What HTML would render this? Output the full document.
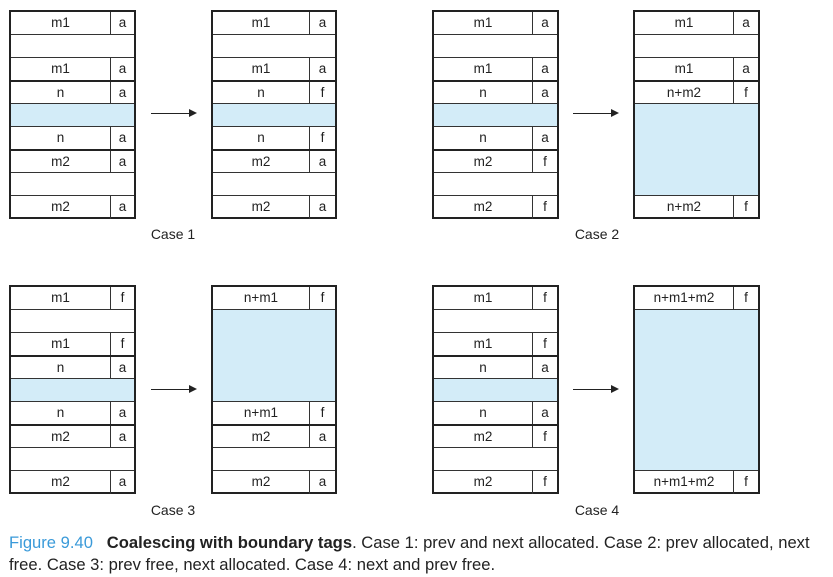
<!DOCTYPE html>
<html><head><meta charset="utf-8">
<style>
body{margin:0;width:833px;height:577px;background:#fff;position:relative;overflow:hidden;font-family:"Liberation Sans",sans-serif;}
.blk{position:absolute;border:2px solid #222;box-sizing:border-box;}
.row{position:absolute;left:0;right:0;box-sizing:border-box;border-top:1px solid #333;font-size:13.5px;color:#222;}
.row.first{border-top:none}
.row.thick{border-top:2px solid #222}
.lab{position:absolute;left:0;text-align:center;}
.tag{position:absolute;top:0;bottom:0;right:0;border-left:1px solid #333;text-align:center;}
.blue{background:#d3ecf8}
.arrow{position:absolute;height:1px;background:#222}
.arrow:after{content:"";position:absolute;right:-2px;top:-4px;border-left:8px solid #222;border-top:4.5px solid transparent;border-bottom:4.5px solid transparent}
.case{position:absolute;font-size:14px;color:#222;width:80px;text-align:center}
.cap{position:absolute;left:9px;top:532px;width:840px;white-space:nowrap;font-family:"Liberation Sans",sans-serif;font-size:16.6px;line-height:22px;color:#222}
</style></head><body>
<div id="root"></div>
<div class="cap"><span style="color:#3a9ad9">Figure 9.40</span>&nbsp;&nbsp; <b>Coalescing with boundary tags</b>. Case 1: prev and next allocated. Case 2: prev allocated, next<br>free. Case 3: prev free, next allocated. Case 4: next and prev free.</div>
<script>
// segments: [label, tag, rows, kind, thickTop]
const blocks=[
 {name:'case1-before',x:9,y:10,w:127,div:99,segs:[['m1','a',1],['','',1],['m1','a',1],['n','a',1,'',1],['','',1,'blue'],['n','a',1],['m2','a',1,'',1],['','',1],['m2','a',1]]},
 {name:'case1-after',x:211,y:10,w:126,div:96,segs:[['m1','a',1],['','',1],['m1','a',1],['n','f',1,'',1],['','',1,'blue'],['n','f',1],['m2','a',1,'',1],['','',1],['m2','a',1]]},
 {name:'case2-before',x:432,y:10,w:127,div:98,segs:[['m1','a',1],['','',1],['m1','a',1],['n','a',1,'',1],['','',1,'blue'],['n','a',1],['m2','f',1,'',1],['','',1],['m2','f',1]]},
 {name:'case2-after',x:633,y:10,w:127,div:98,segs:[['m1','a',1],['','',1],['m1','a',1],['n+m2','f',1,'',1],['','',4,'blue'],['n+m2','f',1]]},
 {name:'case3-before',x:9,y:285,w:127,div:99,segs:[['m1','f',1],['','',1],['m1','f',1],['n','a',1,'',1],['','',1,'blue'],['n','a',1],['m2','a',1,'',1],['','',1],['m2','a',1]]},
 {name:'case3-after',x:211,y:285,w:126,div:96,segs:[['n+m1','f',1],['','',4,'blue'],['n+m1','f',1],['m2','a',1,'',1],['','',1],['m2','a',1]]},
 {name:'case4-before',x:432,y:285,w:127,div:98,segs:[['m1','f',1],['','',1],['m1','f',1],['n','a',1,'',1],['','',1,'blue'],['n','a',1],['m2','f',1,'',1],['','',1],['m2','f',1]]},
 {name:'case4-after',x:633,y:285,w:127,div:98,segs:[['n+m1+m2','f',1],['','',7,'blue'],['n+m1+m2','f',1]]}
];
const RH=23;
const root=document.getElementById('root');
blocks.forEach(b=>{
 const d=document.createElement('div');d.className='blk';
 
 
 d.style.left=b.x+'px';d.style.top=b.y+'px';d.style.width=b.w+'px';d.style.height=(RH*9+2)+'px';
 let r=0;
 b.segs.forEach((s,i)=>{
  const e=document.createElement('div');
  e.className='row'+(i==0?' first':'')+(s[4]?' thick':'')+(s[3]?' '+s[3]:'');
  
  
  e.style.top=(r*RH-(i==0?0:1))+'px';e.style.height=(s[2]*RH+(i==0?0:1))+'px';
  if(s[0]){
   e.innerHTML='<span class="lab" style="width:'+(b.div)+'px;line-height:'+(RH-1)+'px">'+s[0]+'</span><span class="tag" style="left:'+b.div+'px;line-height:'+(RH-1)+'px">'+s[1]+'</span>';
  }
  d.appendChild(e);r+=s[2];
 });
 root.appendChild(d);
});
[[151,113],[573,113],[151,389],[573,389]].forEach((a,i)=>{
 const e=document.createElement('div');e.className='arrow';
 
 
 e.style.left=a[0]+'px';e.style.top=a[1]+'px';e.style.width='44px';root.appendChild(e);
});
[[133,226,'Case 1'],[557,226,'Case 2'],[133,502,'Case 3'],[557,502,'Case 4']].forEach(c=>{
 const e=document.createElement('div');e.className='case';
 
 
 e.style.left=c[0]+'px';e.style.top=c[1]+'px';e.textContent=c[2];root.appendChild(e);
});
</script>
</body></html>
